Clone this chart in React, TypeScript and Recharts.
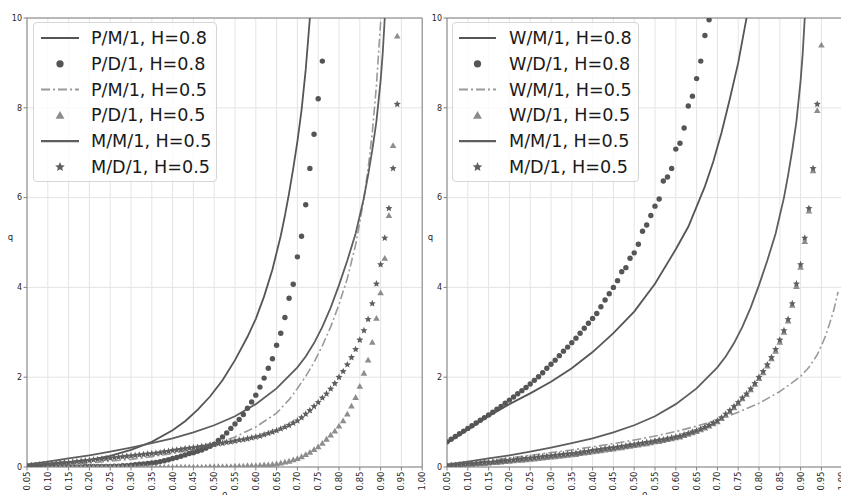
import React from 'react';
import { ComposedChart, Line, Scatter, XAxis, YAxis, CartesianGrid, ReferenceLine, Legend } from 'recharts';

// ---------- axes ----------
const xTicks = [0.05, 0.1, 0.15, 0.2, 0.25, 0.3, 0.35, 0.4, 0.45, 0.5, 0.55, 0.6, 0.65, 0.7, 0.75, 0.8, 0.85, 0.9, 0.95, 1.0];
const yTicks = [0, 2, 4, 6, 8, 10];

// ---------- grid of utilisation values for the marker series ----------
const rhoGrid = [
  0.05, 0.06, 0.07, 0.08, 0.09, 0.10, 0.11, 0.12, 0.13, 0.14,
  0.15, 0.16, 0.17, 0.18, 0.19, 0.20, 0.21, 0.22, 0.23, 0.24,
  0.25, 0.26, 0.27, 0.28, 0.29, 0.30, 0.31, 0.32, 0.33, 0.34,
  0.35, 0.36, 0.37, 0.38, 0.39, 0.40, 0.41, 0.42, 0.43, 0.44,
  0.45, 0.46, 0.47, 0.48, 0.49, 0.50, 0.51, 0.52, 0.53, 0.54,
  0.55, 0.56, 0.57, 0.58, 0.59, 0.60, 0.61, 0.62, 0.63, 0.64,
  0.65, 0.66, 0.67, 0.68, 0.69, 0.70, 0.71, 0.72, 0.73, 0.74,
  0.75, 0.76, 0.77, 0.78, 0.79, 0.80, 0.81, 0.82, 0.83, 0.84,
  0.85, 0.86, 0.87, 0.88, 0.89, 0.90, 0.91, 0.92, 0.93, 0.94,
  0.95,
];

// ---------- left panel ----------
// P/M/1, H=0.8 (solid)
const pm1H08Rho = [0.05, 0.1, 0.15, 0.2, 0.25, 0.3, 0.35, 0.4, 0.43, 0.46, 0.49, 0.52, 0.55, 0.58, 0.6, 0.62, 0.64, 0.66, 0.67, 0.68, 0.69, 0.7, 0.71, 0.72, 0.73, 0.735];
const pm1H08Q = [0.03, 0.06, 0.10, 0.16, 0.25, 0.38, 0.56, 0.82, 1.02, 1.27, 1.57, 1.93, 2.38, 2.90, 3.30, 3.80, 4.40, 5.15, 5.60, 6.10, 6.65, 7.25, 7.95, 8.85, 10.0, 10.6];

// P/D/1, H=0.8 (circles)
const pd1H08Q = [
  0.00, 0.00, 0.00, 0.00, 0.00, 0.00, 0.00, 0.00, 0.00, 0.00,
  0.00, 0.00, 0.00, 0.00, 0.01, 0.01, 0.01, 0.01, 0.01, 0.01,
  0.01, 0.02, 0.02, 0.03, 0.03, 0.04, 0.05, 0.06, 0.07, 0.08,
  0.09, 0.10, 0.12, 0.14, 0.16, 0.19, 0.21, 0.24, 0.27, 0.30,
  0.32, 0.35, 0.38, 0.42, 0.46, 0.51, 0.59, 0.67, 0.76, 0.86,
  0.96, 1.06, 1.17, 1.31, 1.45, 1.60, 1.78, 1.98, 2.20, 2.41,
  2.71, 2.98, 3.33, 3.76, 4.07, 4.68, 5.14, 5.84, 6.65, 7.41,
  8.20, 9.04,
];

// P/M/1, H=0.5 (dash-dot)
const pm1H05Rho = [0.05, 0.1, 0.15, 0.2, 0.25, 0.3, 0.35, 0.4, 0.45, 0.5, 0.55, 0.6, 0.65, 0.68, 0.7, 0.72, 0.74, 0.76, 0.78, 0.8, 0.82, 0.84, 0.85, 0.86, 0.87, 0.88, 0.89, 0.9, 0.905];
const pm1H05Q = [0.02, 0.04, 0.06, 0.09, 0.13, 0.17, 0.23, 0.30, 0.39, 0.51, 0.67, 0.89, 1.20, 1.50, 1.75, 2.02, 2.33, 2.70, 3.12, 3.62, 4.20, 4.95, 5.45, 6.00, 6.65, 7.45, 8.50, 9.90, 10.8];

// P/D/1, H=0.5 (triangles)
const pd1H05Q = [
  0.00, 0.00, 0.00, 0.00, 0.00, 0.00, 0.00, 0.00, 0.00, 0.00,
  0.00, 0.00, 0.00, 0.00, 0.00, 0.00, 0.00, 0.00, 0.00, 0.00,
  0.00, 0.00, 0.00, 0.00, 0.00, 0.00, 0.00, 0.00, 0.00, 0.00,
  0.00, 0.00, 0.00, 0.00, 0.00, 0.00, 0.00, 0.00, 0.00, 0.00,
  0.00, 0.00, 0.00, 0.00, 0.01, 0.01, 0.01, 0.01, 0.01, 0.01,
  0.02, 0.02, 0.02, 0.03, 0.03, 0.03, 0.04, 0.05, 0.05, 0.06,
  0.07, 0.09, 0.11, 0.13, 0.16, 0.19, 0.23, 0.28, 0.33, 0.39,
  0.45, 0.53, 0.62, 0.71, 0.80, 0.91, 1.03, 1.18, 1.36, 1.55,
  1.80, 2.09, 2.38, 2.78, 3.31, 3.88, 4.65, 5.60, 7.16, 9.60,
];

// M/M/1, H=0.5 (solid, both panels)
const mm1Rho = [0.05, 0.1, 0.15, 0.2, 0.25, 0.3, 0.35, 0.4, 0.45, 0.5, 0.55, 0.6, 0.65, 0.7, 0.72, 0.74, 0.76, 0.78, 0.8, 0.82, 0.84, 0.86, 0.87, 0.88, 0.89, 0.9, 0.905, 0.91, 0.915];
const mm1Q = [0.06, 0.12, 0.19, 0.26, 0.34, 0.43, 0.53, 0.64, 0.77, 0.93, 1.13, 1.40, 1.75, 2.22, 2.46, 2.76, 3.12, 3.55, 4.05, 4.60, 5.20, 6.00, 6.50, 7.06, 7.70, 8.60, 9.20, 10.0, 10.8];

// M/D/1, H=0.5 (stars, both panels)
const md1Q = [
  0.03, 0.04, 0.04, 0.05, 0.06, 0.07, 0.07, 0.08, 0.09, 0.10,
  0.10, 0.11, 0.12, 0.13, 0.14, 0.15, 0.16, 0.17, 0.18, 0.19,
  0.20, 0.21, 0.22, 0.23, 0.24, 0.25, 0.26, 0.27, 0.28, 0.29,
  0.30, 0.31, 0.32, 0.34, 0.35, 0.37, 0.38, 0.39, 0.41, 0.42,
  0.43, 0.44, 0.46, 0.47, 0.49, 0.50, 0.52, 0.53, 0.55, 0.56,
  0.58, 0.60, 0.61, 0.63, 0.65, 0.67, 0.69, 0.72, 0.75, 0.78,
  0.81, 0.85, 0.89, 0.93, 0.98, 1.03, 1.10, 1.18, 1.26, 1.35,
  1.44, 1.54, 1.63, 1.74, 1.86, 2.00, 2.13, 2.28, 2.44, 2.62,
  2.83, 3.04, 3.29, 3.64, 4.08, 4.51, 5.10, 5.76, 6.65, 8.08,
];

// ---------- right panel ----------
// W/M/1, H=0.8 (solid)
const wm1H08Rho = [0.05, 0.075, 0.1, 0.125, 0.15, 0.2, 0.25, 0.3, 0.35, 0.4, 0.45, 0.5, 0.55, 0.6, 0.63, 0.65, 0.67, 0.69, 0.71, 0.73, 0.75, 0.77, 0.78];
const wm1H08Q = [0.53, 0.68, 0.83, 0.98, 1.13, 1.40, 1.64, 1.90, 2.20, 2.56, 2.98, 3.46, 4.08, 4.85, 5.35, 5.80, 6.25, 6.80, 7.45, 8.20, 9.00, 10.0, 10.5];

// W/D/1, H=0.8 (circles)
const wd1H08Q = [
  0.56, 0.62, 0.68, 0.74, 0.80, 0.86, 0.92, 0.98, 1.04, 1.10,
  1.16, 1.22, 1.29, 1.35, 1.42, 1.49, 1.56, 1.63, 1.70, 1.77,
  1.85, 1.93, 2.01, 2.10, 2.20, 2.29, 2.38, 2.48, 2.58, 2.67,
  2.77, 2.87, 2.98, 3.09, 3.20, 3.31, 3.42, 3.57, 3.72, 3.86,
  4.00, 4.15, 4.35, 4.44, 4.65, 4.77, 4.96, 5.25, 5.39, 5.60,
  5.81, 5.97, 6.37, 6.46, 6.65, 7.08, 7.21, 7.55, 8.04, 8.26,
  8.65, 9.04, 9.61, 9.96,
];

// W/M/1, H=0.5 (dash-dot)
const wm1H05Rho = [0.05, 0.1, 0.15, 0.2, 0.25, 0.3, 0.35, 0.4, 0.45, 0.5, 0.55, 0.6, 0.65, 0.7, 0.75, 0.8, 0.85, 0.88, 0.9, 0.92, 0.94, 0.95, 0.96, 0.97, 0.98, 0.99];
const wm1H05Q = [0.04, 0.09, 0.14, 0.20, 0.26, 0.32, 0.38, 0.45, 0.52, 0.60, 0.69, 0.79, 0.91, 1.05, 1.22, 1.42, 1.68, 1.88, 2.02, 2.22, 2.50, 2.70, 2.92, 3.20, 3.50, 3.90];

// W/D/1, H=0.5 (triangles)
const wd1H05Q = [
  0.02, 0.03, 0.03, 0.04, 0.05, 0.05, 0.06, 0.07, 0.07, 0.08,
  0.09, 0.10, 0.10, 0.11, 0.12, 0.13, 0.14, 0.15, 0.15, 0.16,
  0.17, 0.18, 0.19, 0.20, 0.21, 0.22, 0.23, 0.24, 0.25, 0.26,
  0.27, 0.28, 0.30, 0.31, 0.32, 0.34, 0.35, 0.36, 0.38, 0.39,
  0.40, 0.42, 0.43, 0.45, 0.46, 0.48, 0.49, 0.51, 0.52, 0.54,
  0.56, 0.57, 0.59, 0.61, 0.63, 0.65, 0.67, 0.70, 0.73, 0.76,
  0.79, 0.83, 0.87, 0.91, 0.96, 1.01, 1.08, 1.15, 1.23, 1.32,
  1.42, 1.52, 1.62, 1.72, 1.84, 1.97, 2.10, 2.25, 2.41, 2.58,
  2.78, 3.00, 3.25, 3.60, 4.02, 4.45, 5.02, 5.70, 6.60, 7.94,
  9.40,
];

// ---------- legend labels ----------
const leftLabels = ['P/M/1, H=0.8', 'P/D/1, H=0.8', 'P/M/1, H=0.5', 'P/D/1, H=0.5', 'M/M/1, H=0.5', 'M/D/1, H=0.5'];
const rightLabels = ['W/M/1, H=0.8', 'W/D/1, H=0.8', 'W/M/1, H=0.5', 'W/D/1, H=0.5', 'M/M/1, H=0.5', 'M/D/1, H=0.5'];

// ---------- styles ----------
const FONT = 'DejaVu Sans, sans-serif';
const C_DARK = '#555555';
const C_DARK2 = '#5e5e5e';
const C_LIGHT = '#9a9a9a';
const C_TRI = '#8d8d8d';
const DASHDOT = '9 3 2 3';

type Kind = 'line' | 'dashdot' | 'circle' | 'triangle' | 'star';
const kinds: Kind[] = ['line', 'circle', 'dashdot', 'triangle', 'line', 'star'];
const colors = [C_DARK, C_DARK, C_LIGHT, C_TRI, C_DARK2, C_DARK2];

const toLine = (xs: number[], qs: number[]) => xs.map((x, i) => ({ x, q: qs[i] }));
const toPts = (qs: number[]) => qs.map((q, i) => ({ x: rhoGrid[i], q }));

const starPoints = (cx: number, cy: number, R: number, r: number) => {
  const pts: string[] = [];
  for (let k = 0; k < 10; k++) {
    const ang = -Math.PI / 2 + (k * Math.PI) / 5;
    const rad = k % 2 === 0 ? R : r;
    pts.push(`${cx + rad * Math.cos(ang)},${cy + rad * Math.sin(ang)}`);
  }
  return pts.join(' ');
};

const Marker = ({ kind, cx, cy, color, scale = 1 }: { kind: Kind; cx: number; cy: number; color: string; scale?: number }) => {
  if (cx == null || cy == null || isNaN(cx) || isNaN(cy)) return null;
  if (kind === 'circle') return <circle cx={cx} cy={cy} r={2.7 * scale} fill={color} />;
  if (kind === 'triangle') {
    const h = 3.3 * scale;
    return <polygon points={`${cx},${cy - h} ${cx + h},${cy + h * 0.75} ${cx - h},${cy + h * 0.75}`} fill={color} />;
  }
  return <polygon points={starPoints(cx, cy, 3.7 * scale, 1.7 * scale)} fill={color} />;
};

const shapeOf = (kind: Kind, color: string) => (props: any) => <Marker kind={kind} cx={props.cx} cy={props.cy} color={color} />;

const XTick = (props: any) => {
  const { x, y, payload } = props;
  return (
    <text x={x} y={y} transform={`rotate(-90 ${x} ${y})`} textAnchor="end" dominantBaseline="central" fontSize={8.5} fill="#262626" fontFamily={FONT}>
      {Number(payload.value).toFixed(2)}
    </text>
  );
};

const makeLegend = (labels: string[], w: number, iconX0: number, iconX1: number, textX: number) => () => (
  <div style={{ width: w, height: 160, boxSizing: 'border-box', border: '1px solid #d6d6d6', borderRadius: 4, background: 'rgba(255,255,255,0.8)' }}>
    <svg width={w - 2} height={158} style={{ display: 'block' }}>
      {labels.map((lab, i) => {
        const cy = 15 + i * 25.8;
        const k = kinds[i];
        const col = colors[i];
        const cx = (iconX0 + iconX1) / 2;
        return (
          <g key={lab}>
            {k === 'line' || k === 'dashdot' ? (
              <line x1={iconX0} x2={iconX1} y1={cy} y2={cy} stroke={col} strokeWidth={k === 'line' ? 2.2 : 2} strokeDasharray={k === 'dashdot' ? DASHDOT : undefined} />
            ) : (
              <Marker kind={k} cx={cx} cy={cy} color={col} scale={1.35} />
            )}
            <text x={textX} y={cy} dominantBaseline="central" fontSize={17.6} fill="#1a1a1a" fontFamily={FONT}>
              {lab}
            </text>
          </g>
        );
      })}
    </svg>
  </div>
);

type Series = { kind: Kind; color: string; data: { x: number; q: number }[] };

const Panel = ({ series, labels, legendW, iconX0, iconX1, textX, legendLeft }: { series: Series[]; labels: string[]; legendW: number; iconX0: number; iconX1: number; textX: number; legendLeft: number }) => (
  <ComposedChart width={430} height={495} margin={{ top: 18, right: 7.8, bottom: 0, left: 0 }}>
    <CartesianGrid stroke="#e4e4e4" strokeWidth={1} />
    <XAxis
      type="number"
      dataKey="x"
      domain={[0.05, 1.0]}
      ticks={xTicks}
      interval={0}
      allowDataOverflow
      height={28}
      tickSize={3.5}
      tickMargin={1}
      stroke="#808080"
      tick={<XTick />}
      label={{
        content: (p: any) => {
          const vb = p.viewBox || { x: 27, width: 395, y: 467 };
          return (
            <text x={vb.x + vb.width / 2} y={497} textAnchor="middle" fontSize={9} fill="#262626" fontFamily={FONT}>
              ρ
            </text>
          );
        },
      }}
    />
    <YAxis
      type="number"
      domain={[0, 10]}
      ticks={yTicks}
      allowDataOverflow
      width={27}
      tickSize={3.5}
      tickMargin={1.5}
      stroke="#808080"
      tick={{ fontSize: 8, fill: '#262626', fontFamily: FONT }}
      label={{
        content: () => (
          <text x={10.5} y={240} textAnchor="middle" fontSize={8.5} fill="#262626" fontFamily={FONT}>
            q
          </text>
        ),
      }}
    />
    <ReferenceLine y={10} stroke="#808080" strokeWidth={1} />
    <ReferenceLine x={1.0} stroke="#808080" strokeWidth={1} />
    {series.map((s, i) =>
      s.kind === 'line' || s.kind === 'dashdot' ? (
        <Line
          key={i}
          data={s.data}
          dataKey="q"
          type="linear"
          stroke={s.color}
          strokeWidth={s.kind === 'line' ? 1.8 : 1.6}
          strokeDasharray={s.kind === 'dashdot' ? DASHDOT : undefined}
          dot={false}
          activeDot={false}
          isAnimationActive={false}
          legendType="none"
        />
      ) : (
        <Scatter key={i} data={s.data} dataKey="q" shape={shapeOf(s.kind, s.color)} isAnimationActive={false} legendType="none" />
      )
    )}
    <Legend
      layout="vertical"
      align="center"
      verticalAlign="middle"
      wrapperStyle={{ position: 'absolute', left: legendLeft, top: 22, width: legendW, height: 160 }}
      content={makeLegend(labels, legendW, iconX0, iconX1, textX)}
    />
  </ComposedChart>
);

const leftSeries: Series[] = [
  { kind: 'line', color: C_DARK, data: toLine(pm1H08Rho, pm1H08Q) },
  { kind: 'circle', color: C_DARK, data: toPts(pd1H08Q) },
  { kind: 'dashdot', color: C_LIGHT, data: toLine(pm1H05Rho, pm1H05Q) },
  { kind: 'triangle', color: C_TRI, data: toPts(pd1H05Q) },
  { kind: 'line', color: C_DARK2, data: toLine(mm1Rho, mm1Q) },
  { kind: 'star', color: C_DARK2, data: toPts(md1Q) },
];

const rightSeries: Series[] = [
  { kind: 'line', color: C_DARK, data: toLine(wm1H08Rho, wm1H08Q) },
  { kind: 'circle', color: C_DARK, data: toPts(wd1H08Q) },
  { kind: 'dashdot', color: C_LIGHT, data: toLine(wm1H05Rho, wm1H05Q) },
  { kind: 'triangle', color: C_TRI, data: toPts(wd1H05Q) },
  { kind: 'line', color: C_DARK2, data: toLine(mm1Rho, mm1Q) },
  { kind: 'star', color: C_DARK2, data: toPts(md1Q) },
];

export default function App() {
  return (
    <div style={{ position: 'fixed', left: 0, top: 0, width: 841, height: 495, overflow: 'hidden', background: '#fff' }}>
      <div style={{ position: 'absolute', left: 0, top: 0 }}>
        <Panel series={leftSeries} labels={leftLabels} legendW={184} iconX0={7} iconX1={45} textX={57} legendLeft={33} />
      </div>
      <div style={{ position: 'absolute', left: 420, top: 0 }}>
        <Panel series={rightSeries} labels={rightLabels} legendW={187} iconX0={6} iconX1={43} textX={56} legendLeft={32} />
      </div>
    </div>
  );
}
